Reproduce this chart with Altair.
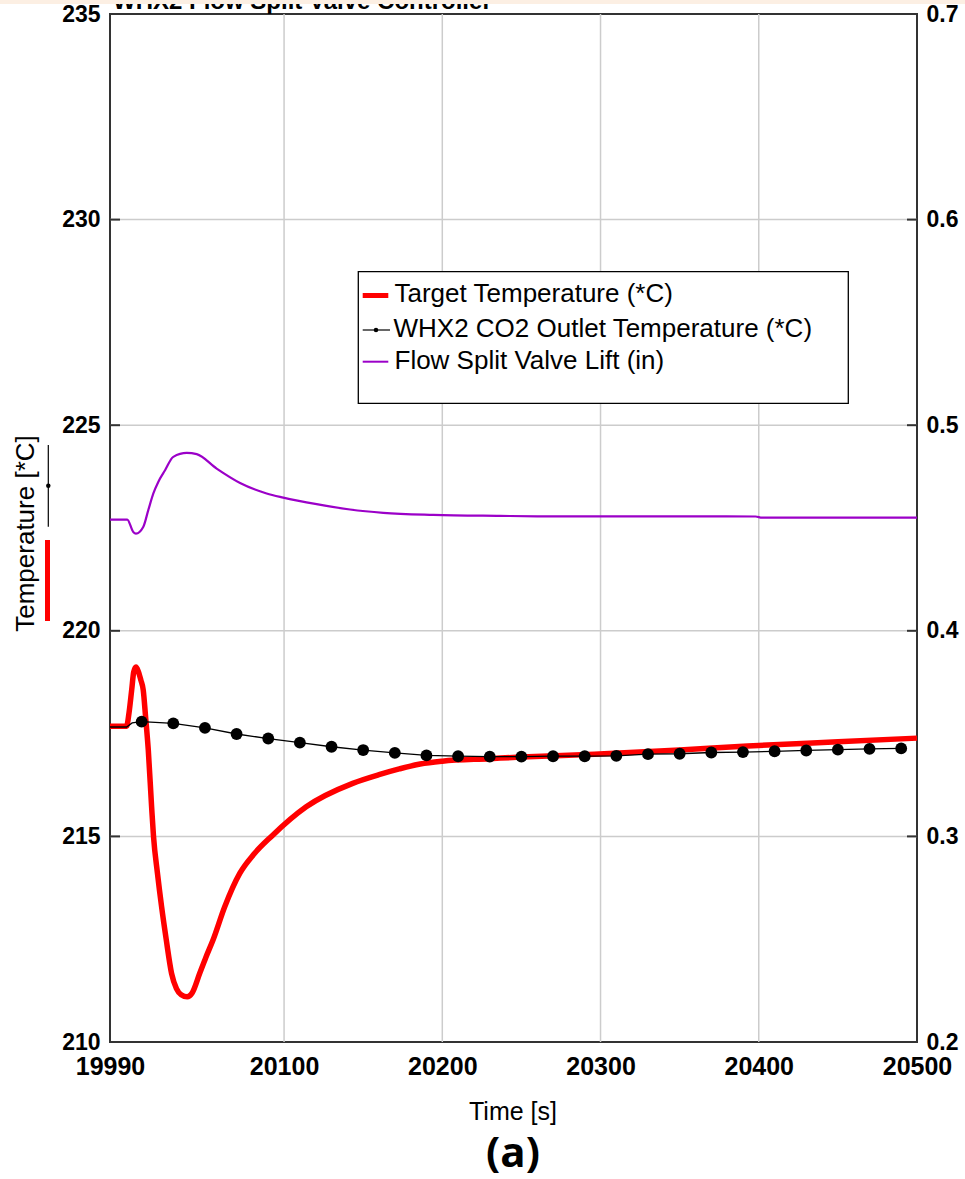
import altair as alt
import pandas as pd

# ---------------- data ----------------
time_target = [19990, 20000.5, 20002, 20003.7, 20005, 20006.4, 20008, 20009.5, 20011, 20012.5,
               20014.2, 20016.3, 20017.5, 20020, 20022.6, 20025.5, 20028.9, 20032, 20035, 20038.8,
               20042, 20046.7, 20050.5, 20055.1, 20062.5, 20072, 20081, 20092, 20114, 20143.4,
               20160, 20172.8, 20186, 20200, 20230, 20250, 20296, 20350, 20393, 20450, 20500]
temp_target = [217.68, 217.68, 218.0, 218.56, 219.0, 219.12, 219.0, 218.8, 218.56, 217.9,
               217.1, 215.72, 215.0, 214.1, 213.29, 212.5, 211.67, 211.3, 211.15, 211.10,
               211.2, 211.67, 212.05, 212.48, 213.29, 214.1, 214.57, 215.0, 215.72, 216.29,
               216.50, 216.64, 216.76, 216.83, 216.89, 216.93, 217.0, 217.1, 217.2, 217.3, 217.39]

time_marker = [20010, 20030, 20050, 20070, 20090, 20110, 20130, 20150, 20170, 20190,
               20210, 20230, 20250, 20270, 20290, 20310, 20330, 20350, 20370, 20390,
               20410, 20430, 20450, 20470, 20490]
temp_marker = [217.79, 217.75, 217.64, 217.49, 217.38, 217.28, 217.18, 217.10, 217.03, 216.97,
               216.95, 216.94, 216.94, 216.95, 216.95, 216.96, 217.0, 217.01, 217.04, 217.05,
               217.07, 217.09, 217.11, 217.13, 217.14]
time_outlet_start = [19990, 20000.5, 20004]
temp_outlet_start = [217.66, 217.66, 217.76]

time_valve = [19990, 20000.9, 20004.7, 20006.4, 20011, 20014.2, 20017.4, 20020.5, 20024.8, 20030,
              20038.5, 20044.8, 20057.4, 20072.2, 20089, 20099.5, 20120.6, 20141.7, 20162.7, 20194.3,
              20236.5, 20260, 20398, 20402, 20500]
lift_valve = [0.4541, 0.4541, 0.4481, 0.4473, 0.4505, 0.4587, 0.4668, 0.4724, 0.4781, 0.4846,
              0.4865, 0.4859, 0.4789, 0.4719, 0.4668, 0.4648, 0.4616, 0.4590, 0.4574, 0.4564,
              0.4559, 0.4557, 0.4556, 0.4550, 0.4550]

time_ticks = [19990, 20100, 20200, 20300, 20400, 20500]
grid_time = [20100, 20200, 20300, 20400]
temp_ticks = [210, 215, 220, 225, 230, 235]
grid_temp = [215, 220, 225, 230]
lift_ticks = [0.2, 0.3, 0.4, 0.5, 0.6, 0.7]

title_text = "WHX2 Flow Split Valve Controller"
legend_labels = ["Target Temperature (*C)", "WHX2 CO2 Outlet Temperature (*C)", "Flow Split Valve Lift (in)"]
y_title = "Temperature [*C]"
x_title = "Time [s]"
panel_label = "(a)"

# ---------------- styling ----------------
FONT = "Liberation Sans"
W, H = 807, 1028
RED = "#ff0000"
PURPLE = "#9b00c8"
GRID = "#cccccc"

X_SCALE = alt.Scale(domain=[19990, 20500], nice=False, zero=False)
Y_SCALE = alt.Scale(domain=[210, 235], nice=False, zero=False)
R_SCALE = alt.Scale(domain=[0.2, 0.7], nice=False, zero=False)

X_AXIS = alt.Axis(values=time_ticks, format="d", grid=False, ticks=False, domain=False,
                  labelFont=FONT, labelFontSize=25, labelFontWeight="bold", labelColor="black",
                  labelPadding=12, labelFlush=False, labelOverlap=False, title=None)
Y_AXIS = alt.Axis(values=temp_ticks, format="d", grid=False, ticks=False, domain=False,
                  labelFont=FONT, labelFontSize=23, labelFontWeight="bold", labelColor="black",
                  labelPadding=10, labelFlush=False, labelOverlap=False, title=None, orient="left")
R_AXIS = alt.Axis(values=lift_ticks, format=".1f", grid=False, ticks=False, domain=False,
                  labelFont=FONT, labelFontSize=23, labelFontWeight="bold", labelColor="black",
                  labelPadding=9, labelFlush=False, labelOverlap=False, title=None, orient="right")

df_target = pd.DataFrame({"t": time_target, "v": temp_target})
df_marker = pd.DataFrame({"t": time_marker, "v": temp_marker})
df_outlet = pd.DataFrame({"t": time_outlet_start + time_marker, "v": temp_outlet_start + temp_marker})
df_valve = pd.DataFrame({"t": time_valve, "v": lift_valve})
df_gx = pd.DataFrame({"t": grid_time})
df_gy = pd.DataFrame({"v": grid_temp})
one = pd.DataFrame({"k": [0]})

X = lambda: alt.X("t:Q", scale=X_SCALE, axis=X_AXIS)
Y = lambda: alt.Y("v:Q", scale=Y_SCALE, axis=Y_AXIS)

grid_v = alt.Chart(df_gx).mark_rule(color=GRID, strokeWidth=1.5).encode(
    x=X(), y=alt.value(0), y2=alt.value(H))
grid_h = alt.Chart(df_gy).mark_rule(color=GRID, strokeWidth=1.5).encode(
    y=Y(), x=alt.value(0), x2=alt.value(W))
ticks_l = alt.Chart(df_gy).mark_rule(color="#333333", strokeWidth=2).encode(
    y=Y(), x=alt.value(0), x2=alt.value(10))
ticks_r = alt.Chart(df_gy).mark_rule(color="#333333", strokeWidth=2).encode(
    y=Y(), x=alt.value(W - 10), x2=alt.value(W))

red_line = alt.Chart(df_target).mark_line(color=RED, strokeWidth=5.5, strokeJoin="round",
                                          interpolate="monotone").encode(x=X(), y=Y())
black_line = alt.Chart(df_outlet).mark_line(color="black", strokeWidth=1.3).encode(
    x=X(), y=Y())
black_pts = alt.Chart(df_marker).mark_point(filled=True, color="black", opacity=1, size=140).encode(
    x=X(), y=Y())

left = alt.layer(grid_v, grid_h, ticks_l, ticks_r, red_line, black_line, black_pts)

purple = alt.Chart(df_valve).mark_line(color=PURPLE, strokeWidth=2.2, interpolate="monotone").encode(
    x=X(), y=alt.Y("v:Q", scale=R_SCALE, axis=R_AXIS))


def rule(x1, x2, y1, y2, color, w):
    return alt.Chart(one).mark_rule(color=color, strokeWidth=w).encode(
        x=alt.value(x1), x2=alt.value(x2), y=alt.value(y1), y2=alt.value(y2))


def text(s, x, y, size, weight="normal", align="left", angle=0, font=FONT):
    return alt.Chart(one).mark_text(text=s, font=font, fontSize=size, fontWeight=weight,
                                    align=align, baseline="alphabetic", angle=angle,
                                    color="black").encode(x=alt.value(x), y=alt.value(y))


# legend box
legend_box = alt.Chart(one).mark_rect(fill="white", stroke="black", strokeWidth=1.3).encode(
    x=alt.value(248.3), x2=alt.value(738.3), y=alt.value(257.7), y2=alt.value(389.3))
leg_red = rule(252.7, 278.3, 281.5, 281.5, RED, 5)
leg_black = rule(252.7, 280, 316, 316, "black", 1.2)
leg_dot = alt.Chart(one).mark_point(filled=True, color="black", opacity=1, size=20).encode(
    x=alt.value(266), y=alt.value(316))
leg_purple = rule(252.7, 278.3, 347.7, 347.7, PURPLE, 2)
leg_t1 = text(legend_labels[0], 284.5, 288, 26)
leg_t2 = text(legend_labels[1], 283.5, 323, 26)
leg_t3 = text(legend_labels[2], 284.5, 354.5, 26)

# left axis title with series symbols
ytitle = text(y_title, -76.5, 519.5, 26, align="center", angle=270)
ysym_black = rule(-61.7, -61.7, 431, 512.7, "black", 1.2)
ysym_dot = alt.Chart(one).mark_point(filled=True, color="black", opacity=1, size=20).encode(
    x=alt.value(-61.7), y=alt.value(471.7))
ysym_red = rule(-62.5, -62.5, 526, 607, RED, 5)

xtitle = text(x_title, 403, 1106, 25, align="center")
panel = text(panel_label, 403, 1153, 42, weight="bold", align="center", font="Open Sans")

top_title = text(title_text, 3, -5, 24, weight="bold")
top_band = alt.Chart(one).mark_rect(fill="#fcefe3").encode(
    x=alt.value(-110), x2=alt.value(W + 48), y=alt.value(-14), y2=alt.value(-10))

annotations = alt.layer(legend_box, leg_red, leg_black, leg_dot, leg_purple, leg_t1, leg_t2, leg_t3,
                        ytitle, ysym_black, ysym_dot, ysym_red, xtitle, panel, top_title, top_band)

chart = alt.layer(left, purple, annotations).resolve_scale(y="independent").properties(
    width=W, height=H,
    autosize=alt.AutoSizeParams(type="none"),
    padding={"left": 110, "top": 14, "right": 48, "bottom": 137},
    background="white",
).configure_view(stroke="#333333", strokeWidth=2)

chart.save("out.html", embed_options={"renderer": "svg", "actions": False})
